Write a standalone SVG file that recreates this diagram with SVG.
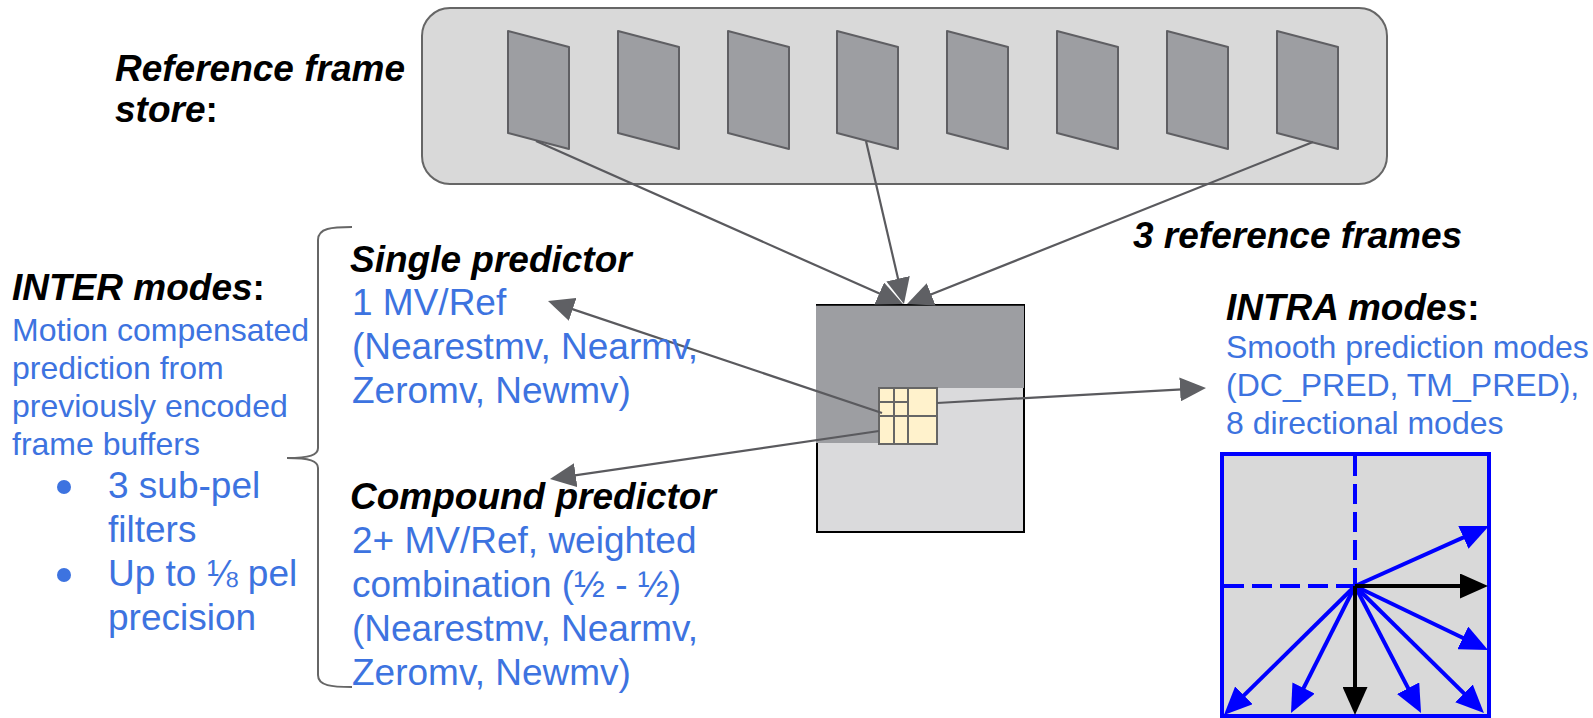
<svg xmlns="http://www.w3.org/2000/svg" width="1593" height="718" viewBox="0 0 1593 718">
  <style>
    .head { font-family: "Liberation Sans", Arial, sans-serif; font-weight: bold; font-style: italic; fill: #000; }
    .colon { font-style: normal; }
    .blue { font-family: "Liberation Sans", Arial, sans-serif; fill: #3d73e0; }
    .frame { fill: #9d9ea2; stroke: #5f5f63; stroke-width: 2; stroke-linejoin: round; }
    .conn { stroke: #5a5a5e; stroke-width: 2.2; fill: none; }
    .cell { fill: #fff2cc; stroke: #666; stroke-width: 2; }
    .blueArrow { stroke: #0000ff; stroke-width: 4; fill: none; }
    .blackArrow { stroke: #000; stroke-width: 4; fill: none; }
  </style>
  <defs>
    <marker id="grayHead" markerUnits="userSpaceOnUse" markerWidth="26" markerHeight="24" viewBox="0 0 26 24" refX="20" refY="12" orient="auto">
      <path d="M0,0 L26,12 L0,24 z" fill="#5f6064"/>
    </marker>
    <marker id="blueHead" markerUnits="userSpaceOnUse" markerWidth="28" markerHeight="25" viewBox="0 0 28 25" refX="16" refY="12.5" orient="auto">
      <path d="M0,0 L28,12.5 L0,25 z" fill="#0000ff"/>
    </marker>
    <marker id="blackHead" markerUnits="userSpaceOnUse" markerWidth="28" markerHeight="25" viewBox="0 0 28 25" refX="16" refY="12.5" orient="auto">
      <path d="M0,0 L28,12.5 L0,25 z" fill="#000"/>
    </marker>
  </defs>

  <rect width="1593" height="718" fill="#fff"/>

  <!-- reference frame store with its eight frames -->
  <g id="frame-store">
    <rect x="422" y="8" width="965" height="176" rx="28" fill="#d9d9d9" stroke="#666" stroke-width="2"/>
    <polygon class="frame" points="508,31 569,47 569,149 508,133"/>
    <polygon class="frame" points="618,31 679,47 679,149 618,133"/>
    <polygon class="frame" points="728,31 789,47 789,149 728,133"/>
    <polygon class="frame" points="837,31 898,47 898,149 837,133"/>
    <polygon class="frame" points="947,31 1008,47 1008,149 947,133"/>
    <polygon class="frame" points="1057,31 1118,47 1118,149 1057,133"/>
    <polygon class="frame" points="1167,31 1228,47 1228,149 1167,133"/>
    <polygon class="frame" points="1277,31 1338,47 1338,149 1277,133"/>
  </g>

  <g id="label-store">
    <text class="head" font-size="37" x="115" y="81">Reference frame</text>
    <text class="head" font-size="37" x="115" y="122">store<tspan class="colon">:</tspan></text>
  </g>

  <g id="label-ref-count">
    <text class="head" font-size="37" x="1133" y="248">3 reference frames</text>
  </g>

  <!-- current frame with the block being predicted -->
  <g id="current-frame">
    <rect x="817" y="305" width="207" height="227" fill="#dadadc" stroke="#000" stroke-width="2"/>
    <path d="M816,305 H1024 V388 H880 V443 H816 Z" fill="#9d9ea2"/>
    <line x1="816" y1="305" x2="1025" y2="305" stroke="#000" stroke-width="1.5"/>
    <g id="block">
      <rect class="cell" x="879" y="388" width="58" height="56"/>
      <line x1="894" y1="388" x2="894" y2="444" stroke="#666" stroke-width="2"/>
      <line x1="908" y1="388" x2="908" y2="444" stroke="#666" stroke-width="2"/>
      <line x1="879" y1="416" x2="937" y2="416" stroke="#666" stroke-width="2"/>
      <line x1="879" y1="402" x2="908" y2="402" stroke="#666" stroke-width="2"/>
    </g>
  </g>

  <!-- connectors -->
  <g id="connectors">
    <line class="conn" x1="536" y1="141" x2="897.5" y2="301.6" marker-end="url(#grayHead)"/>
    <line class="conn" x1="866" y1="141" x2="902.6" y2="298.2" marker-end="url(#grayHead)"/>
    <line class="conn" x1="1313" y1="142" x2="912.6" y2="301.8" marker-end="url(#grayHead)"/>
    <line class="conn" x1="882" y1="413" x2="553.7" y2="302.9" marker-end="url(#grayHead)"/>
    <line class="conn" x1="879" y1="431" x2="555.9" y2="478.1" marker-end="url(#grayHead)"/>
    <line class="conn" x1="937" y1="403" x2="1200" y2="388.3" marker-end="url(#grayHead)"/>
  </g>

  <!-- inter mode description -->
  <g id="inter-modes">
    <text class="head" font-size="37" x="12" y="300">INTER modes<tspan class="colon">:</tspan></text>
    <text class="blue" font-size="32" x="12" y="341">Motion compensated</text>
    <text class="blue" font-size="32" x="12" y="379">prediction from</text>
    <text class="blue" font-size="32" x="12" y="417">previously encoded</text>
    <text class="blue" font-size="32" x="12" y="455">frame buffers</text>
    <circle cx="64" cy="487" r="7" fill="#3d73e0"/>
    <text class="blue" font-size="37" x="108" y="498">3 sub-pel</text>
    <text class="blue" font-size="37" x="108" y="542">filters</text>
    <circle cx="64" cy="575" r="7" fill="#3d73e0"/>
    <text class="blue" font-size="37" x="108" y="586">Up to ⅛ pel</text>
    <text class="blue" font-size="37" x="108" y="630">precision</text>
  </g>

  <g id="brace">
    <path d="M352,227 C332,227 318,228 318,240 L318,448 C318,455 310,458 287,458 C310,458 318,461 318,468 L318,675 C318,686 332,687 352,687" fill="none" stroke="#666" stroke-width="2"/>
  </g>

  <g id="single-predictor">
    <text class="head" font-size="37" x="350" y="272">Single predictor</text>
    <text class="blue" font-size="37" x="352" y="315">1 MV/Ref</text>
    <text class="blue" font-size="37" x="352" y="359">(Nearestmv, Nearmv,</text>
    <text class="blue" font-size="37" x="352" y="403">Zeromv, Newmv)</text>
  </g>

  <g id="compound-predictor">
    <text class="head" font-size="37" x="350" y="509">Compound predictor</text>
    <text class="blue" font-size="37" x="352" y="553">2+ MV/Ref, weighted</text>
    <text class="blue" font-size="37" x="352" y="597">combination (½ - ½)</text>
    <text class="blue" font-size="37" x="352" y="641">(Nearestmv, Nearmv,</text>
    <text class="blue" font-size="37" x="352" y="685">Zeromv, Newmv)</text>
  </g>

  <g id="intra-modes">
    <text class="head" font-size="37" x="1226" y="320">INTRA modes<tspan class="colon">:</tspan></text>
    <text class="blue" font-size="32" x="1226" y="358">Smooth prediction modes</text>
    <text class="blue" font-size="32" x="1226" y="396">(DC_PRED, TM_PRED),</text>
    <text class="blue" font-size="32" x="1226" y="434">8 directional modes</text>
  </g>

  <!-- intra direction chart -->
  <g id="intra-directions">
    <rect x="1222" y="454" width="267" height="262" fill="#d9d9d9" stroke="#0000ff" stroke-width="4"/>
    <line x1="1355" y1="456" x2="1355" y2="586" stroke="#0000ff" stroke-width="4" stroke-dasharray="20 8"/>
    <line x1="1224" y1="586" x2="1355" y2="586" stroke="#0000ff" stroke-width="4" stroke-dasharray="20 8"/>
    <line class="blueArrow" x1="1355" y1="586" x2="1478" y2="530.9" marker-end="url(#blueHead)"/>
    <line class="blueArrow" x1="1355" y1="586" x2="1477.2" y2="644.8" marker-end="url(#blueHead)"/>
    <line class="blueArrow" x1="1355" y1="586" x2="1475.4" y2="704.6" marker-end="url(#blueHead)"/>
    <line class="blueArrow" x1="1355" y1="586" x2="1415.5" y2="702.4" marker-end="url(#blueHead)"/>
    <line class="blueArrow" x1="1355" y1="586" x2="1296.4" y2="702.3" marker-end="url(#blueHead)"/>
    <line class="blueArrow" x1="1355" y1="586" x2="1232.5" y2="706.6" marker-end="url(#blueHead)"/>
    <line class="blackArrow" x1="1355" y1="586" x2="1476" y2="586" marker-end="url(#blackHead)"/>
    <line class="blackArrow" x1="1355" y1="586" x2="1355" y2="703" marker-end="url(#blackHead)"/>
  </g>
</svg>
